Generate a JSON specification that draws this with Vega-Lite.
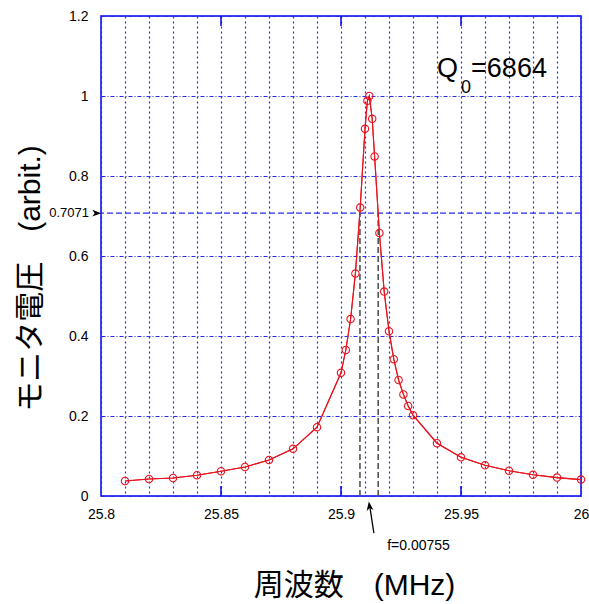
{
  "$schema": "https://vega.github.io/schema/vega-lite/v6.json",
  "width": 480,
  "height": 480,
  "autosize": "none",
  "padding": {"left": 101, "top": 16, "right": 8, "bottom": 108},
  "background": "white",
  "config": {
    "view": {"stroke": "#0000ee", "strokeWidth": 1.5},
    "font": "Liberation Sans"
  },
  "datasets": {
    "resonance": [
      {"f": 25.81, "v": 0.0375},
      {"f": 25.82, "v": 0.0425},
      {"f": 25.83, "v": 0.045},
      {"f": 25.84, "v": 0.052},
      {"f": 25.85, "v": 0.062},
      {"f": 25.86, "v": 0.0725},
      {"f": 25.87, "v": 0.09},
      {"f": 25.88, "v": 0.118},
      {"f": 25.89, "v": 0.172},
      {"f": 25.9, "v": 0.308},
      {"f": 25.902, "v": 0.365},
      {"f": 25.904, "v": 0.4425},
      {"f": 25.906, "v": 0.556},
      {"f": 25.908, "v": 0.721},
      {"f": 25.91, "v": 0.918},
      {"f": 25.911, "v": 0.988},
      {"f": 25.9118, "v": 1.0},
      {"f": 25.913, "v": 0.943},
      {"f": 25.914, "v": 0.849},
      {"f": 25.916, "v": 0.6575},
      {"f": 25.918, "v": 0.511},
      {"f": 25.92, "v": 0.412},
      {"f": 25.922, "v": 0.342},
      {"f": 25.924, "v": 0.29},
      {"f": 25.926, "v": 0.254},
      {"f": 25.928, "v": 0.225},
      {"f": 25.93, "v": 0.202},
      {"f": 25.94, "v": 0.132},
      {"f": 25.95, "v": 0.0967},
      {"f": 25.96, "v": 0.0767},
      {"f": 25.97, "v": 0.0633},
      {"f": 25.98, "v": 0.053},
      {"f": 25.99, "v": 0.046},
      {"f": 26.0, "v": 0.041}
    ],
    "halfpower": [{"f": 25.9079, "v": 0.7071, "z": 0}, {"f": 25.9155, "v": 0.7071, "z": 0}],
    "majors": [
      {"f": 25.85, "a": 0, "b": 0.025}, {"f": 25.9, "a": 0, "b": 0.025}, {"f": 25.95, "a": 0, "b": 0.025},
      {"f": 25.85, "a": 1.175, "b": 1.2}, {"f": 25.9, "a": 1.175, "b": 1.2}, {"f": 25.95, "a": 1.175, "b": 1.2}
    ]
  },
  "layer": [
    {
      "data": {"name": "resonance"},
      "mark": {"type": "line", "color": "#e8141e", "strokeWidth": 1.1},
      "encoding": {
        "x": {
          "field": "f", "type": "quantitative",
          "scale": {"domain": [25.8, 26.0], "nice": false, "zero": false},
          "axis": {
            "values": [25.8, 25.81, 25.82, 25.83, 25.84, 25.85, 25.86, 25.87, 25.88, 25.89, 25.9, 25.91, 25.92, 25.93, 25.94, 25.95, 25.96, 25.97, 25.98, 25.99, 26.0],
            "tickCount": 40,
            "labelOverlap": false,
            "labelExpr": "abs(datum.value*20 - round(datum.value*20)) < 0.001 ? format(datum.value, '.4~g') : ''",
            "domain": false, "ticks": false,
            "grid": true, "gridColor": "#2a2aee", "gridDash": [2, 3], "gridWidth": 1.2, "gridOpacity": 1,
            "labelFont": "Liberation Sans", "labelFontSize": 14, "labelColor": "#000", "labelPadding": 11,
            "labelFlush": false,
            "title": "周波数　(MHz)",
            "titleFont": "Liberation Sans, Noto Sans CJK JP", "titleFontSize": 30, "titleFontWeight": "normal", "titleColor": "#000",
            "titleX": 253, "titleY": 89, "titleBaseline": "middle", "titleAlign": "center"
          }
        },
        "y": {
          "field": "v", "type": "quantitative",
          "scale": {"domain": [0, 1.2], "nice": false},
          "axis": {
            "values": [0, 0.2, 0.4, 0.6, 0.8, 1.0, 1.2],
            "tickCount": 20,
            "labelOverlap": false,
            "format": "~g",
            "domain": false, "ticks": false,
            "grid": true, "gridColor": "#2a2aee", "gridDash": [4, 2, 1, 2], "gridWidth": 1.2, "gridOpacity": 1,
            "labelFont": "Liberation Sans", "labelFontSize": 14, "labelColor": "#000", "labelPadding": 13,
            "labelFlush": false,
            "title": "モニタ電圧　(arbit.)",
            "titleFont": "Liberation Sans, Noto Sans CJK JP", "titleFontSize": 30, "titleFontWeight": "normal", "titleColor": "#000",
            "titleX": -71, "titleY": 262, "titleBaseline": "middle", "titleAlign": "center", "titleAngle": -90
          }
        }
      }
    },
    {
      "data": {"values": [{"v": 0.7071}]},
      "mark": {"type": "rule", "color": "#2a2aee", "strokeDash": [6, 3], "strokeWidth": 1.3},
      "encoding": {"y": {"field": "v", "type": "quantitative"}}
    },
    {
      "data": {"name": "halfpower"},
      "mark": {"type": "rule", "color": "#555555", "strokeDash": [6, 3], "strokeWidth": 1.6},
      "encoding": {
        "x": {"field": "f", "type": "quantitative"},
        "y": {"field": "z", "type": "quantitative"},
        "y2": {"field": "v"}
      }
    },
    {
      "data": {"name": "resonance"},
      "mark": {"type": "line", "color": "#e8141e", "strokeWidth": 1.1},
      "encoding": {
        "x": {"field": "f", "type": "quantitative"},
        "y": {"field": "v", "type": "quantitative"}
      }
    },
    {
      "data": {"name": "resonance"},
      "mark": {"type": "point", "shape": "circle", "filled": false, "color": "#e8141e", "size": 55, "strokeWidth": 1.1, "opacity": 1},
      "encoding": {
        "x": {"field": "f", "type": "quantitative"},
        "y": {"field": "v", "type": "quantitative"}
      }
    },
    {
      "data": {"name": "majors"},
      "mark": {"type": "rule", "color": "#0000ee", "strokeWidth": 1.5},
      "encoding": {
        "x": {"field": "f", "type": "quantitative"},
        "y": {"field": "a", "type": "quantitative"},
        "y2": {"field": "b"}
      }
    },
    {
      "data": {"values": [{"f": 25.795, "v": 0.7071, "t": "0.7071"}]},
      "mark": {"type": "text", "align": "right", "baseline": "middle", "fontSize": 13, "font": "Liberation Sans", "color": "#000"},
      "encoding": {
        "x": {"field": "f", "type": "quantitative"},
        "y": {"field": "v", "type": "quantitative"},
        "text": {"field": "t"}
      }
    },
    {
      "data": {"values": [{"f": 25.7979, "v": 0.7071}]},
      "mark": {"type": "point", "shape": "M1,0L-0.7,-0.65L-0.25,0L-0.7,0.65Z", "filled": true, "color": "#000", "size": 110, "opacity": 1},
      "encoding": {
        "x": {"field": "f", "type": "quantitative"},
        "y": {"field": "v", "type": "quantitative"}
      }
    },
    {
      "data": {"values": [{"f1": 25.9137, "v1": -0.093, "f2": 25.9121, "v2": -0.03}]},
      "mark": {"type": "rule", "color": "#000", "strokeWidth": 1.3},
      "encoding": {
        "x": {"field": "f1", "type": "quantitative"},
        "y": {"field": "v1", "type": "quantitative"},
        "x2": {"field": "f2"},
        "y2": {"field": "v2"}
      }
    },
    {
      "data": {"values": [{"f": 25.9119, "v": -0.027}]},
      "mark": {"type": "point", "shape": "M0,-1L0.65,0.7L0,0.25L-0.65,0.7Z", "filled": true, "color": "#000", "size": 110, "angle": -8, "opacity": 1},
      "encoding": {
        "x": {"field": "f", "type": "quantitative"},
        "y": {"field": "v", "type": "quantitative"}
      }
    },
    {
      "data": {"values": [{"f": 25.9323, "v": -0.125, "t": "f=0.00755"}]},
      "mark": {"type": "text", "align": "center", "baseline": "middle", "fontSize": 14, "font": "Liberation Sans", "color": "#000"},
      "encoding": {
        "x": {"field": "f", "type": "quantitative"},
        "y": {"field": "v", "type": "quantitative"},
        "text": {"field": "t"}
      }
    },
    {
      "data": {"values": [
        {"f": 25.94, "v": 1.0475, "t": "Q"},
        {"f": 25.9542, "v": 1.0475, "t": "=6864"}
      ]},
      "mark": {"type": "text", "align": "left", "baseline": "alphabetic", "fontSize": 27, "font": "Liberation Sans", "color": "#000"},
      "encoding": {
        "x": {"field": "f", "type": "quantitative"},
        "y": {"field": "v", "type": "quantitative"},
        "text": {"field": "t"}
      }
    },
    {
      "data": {"values": [{"f": 25.95, "v": 1.0075, "t": "0"}]},
      "mark": {"type": "text", "align": "left", "baseline": "alphabetic", "fontSize": 18, "font": "Liberation Sans", "color": "#000"},
      "encoding": {
        "x": {"field": "f", "type": "quantitative"},
        "y": {"field": "v", "type": "quantitative"},
        "text": {"field": "t"}
      }
    }
  ]
}
